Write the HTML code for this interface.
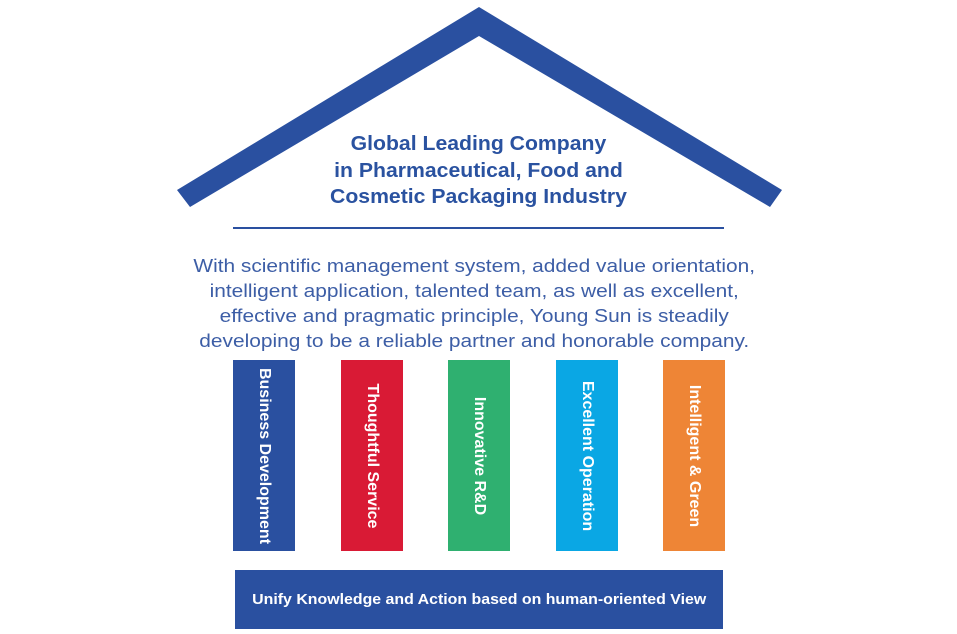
<!DOCTYPE html>
<html><head><meta charset="utf-8"><style>
body{margin:0;width:957px;height:634px;background:#fff;position:relative;overflow:hidden;font-family:"Liberation Sans",sans-serif}
.h{position:absolute;left:0;width:957px;text-align:center;color:#2a52a0;font-weight:bold;font-size:20px;line-height:26.5px;top:131px;transform:scaleX(1.06);transform-origin:479px 0}
.p{position:absolute;left:-5px;width:957px;text-align:center;color:#3d5ea6;font-size:18px;line-height:25px;top:254px;transform:scaleX(1.16);transform-origin:474px 0}
.c{position:absolute;top:360px;width:62px;height:191px;color:#fff;font-weight:bold;font-size:16px}
.c span{position:absolute;left:50%;top:50%;white-space:nowrap;transform:translate(-50%,-50%) rotate(90deg)}
.b{position:absolute;left:235px;top:570px;width:488px;height:59px;background:#2a50a0;color:#fff;font-weight:bold;font-size:15px;line-height:59px;text-align:center}
.b span{display:inline-block;transform:scaleX(1.06)}
</style></head><body>
<svg width="957" height="634" style="position:absolute;left:0;top:0">
<polygon points="177,190 479,7 782,190 770,207 479,36 190,207" fill="#2a50a0"/>
<rect x="233" y="227" width="491" height="2" fill="#2a50a0"/>
</svg>
<div class="h">Global Leading Company<br>in Pharmaceutical, Food and<br>Cosmetic Packaging Industry</div>
<div class="p">With scientific management system, added value orientation,<br>intelligent application, talented team, as well as excellent,<br>effective and pragmatic principle, Young Sun is steadily<br>developing to be a reliable partner and honorable company.</div>
<div class="c" style="left:233px;background:#2a50a0"><span>Business Development</span></div>
<div class="c" style="left:341px;background:#d91a35"><span>Thoughtful Service</span></div>
<div class="c" style="left:448px;background:#2fb070"><span>Innovative R&amp;D</span></div>
<div class="c" style="left:556px;background:#0aa7e4"><span>Excellent Operation</span></div>
<div class="c" style="left:663px;background:#ee8536"><span>Intelligent &amp; Green</span></div>
<div class="b"><span>Unify Knowledge and Action based on human-oriented View</span></div>
</body></html>
